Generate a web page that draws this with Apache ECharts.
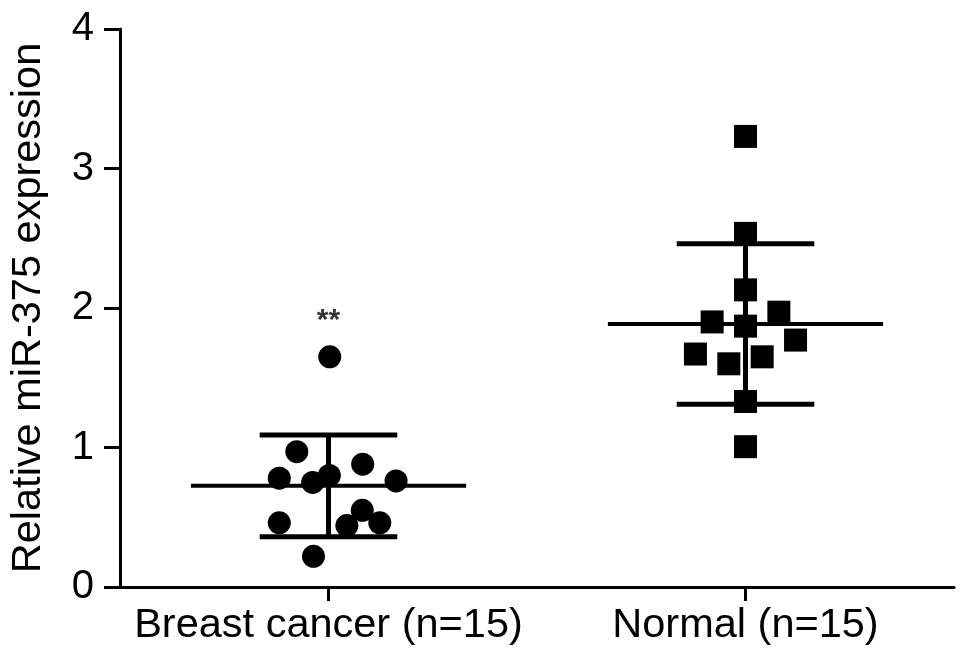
<!DOCTYPE html>
<html>
<head>
<meta charset="utf-8">
<script src="https://cdn.jsdelivr.net/npm/echarts@6/dist/echarts.min.js"></script>
<style>html,body{margin:0;padding:0;background:#fff}#c{width:969px;height:662px}</style>
</head>
<body>
<div id="c"></div>
<script>
// Categories and tick labels
var categories = ['Breast cancer (n=15)', 'Normal (n=15)'];
var yTicks = [0, 1, 2, 3, 4];

// Breast cancer: values and horizontal jitter (offset from category centre)
var cancerValues = [1.65, 0.97, 0.88, 0.78, 0.75, 0.80, 0.76, 0.55, 0.46, 0.44, 0.46, 0.22];
var cancerJitter = [0.003, -0.076, 0.082, -0.118, -0.038, 0.002, 0.162, 0.081, -0.118, 0.044, 0.123, -0.036];

// Normal: values and horizontal jitter
var normalValues = [3.23, 2.535, 2.13, 1.90, 1.87, 1.97, 1.77, 1.67, 1.60, 1.65, 1.33, 1.006];
var normalJitter = [0, 0, 0, -0.08, 0, 0.08, 0.12, -0.12, -0.04, 0.04, 0, 0];

// Mean and SD
var means = [0.725, 1.885];
var sds = [0.365, 0.575];

// Significance mark
var sigMarks = ['**', ''];
var sigHeights = [1.91, null];

function pts(vals, jit, c) {
  return vals.map(function (v, i) { return [c + jit[i], v]; });
}

var chart = echarts.init(document.getElementById('c'), null, {renderer: 'canvas'});
var font = 'Liberation Sans, Arial, Helvetica, sans-serif';

var option = {
  animation: false,
  backgroundColor: '#fff',
  grid: {left: 117, right: 15, top: 29, bottom: 75, containLabel: false},
  xAxis: [{
    type: 'category',
    data: categories,
    boundaryGap: true,
    axisLine: {lineStyle: {color: '#000', width: 3}},
    axisTick: {show: true, alignWithLabel: true, interval: 0, length: 14, lineStyle: {color: '#000', width: 3}},
    axisLabel: {color: '#000', fontSize: 41.5, fontFamily: font, margin: 18, interval: 0, hideOverlap: false},
    splitLine: {show: false}
  }, {
    type: 'value',
    min: 0.5, max: 2.5,
    show: false
  }],
  yAxis: {
    type: 'value',
    min: yTicks[0], max: yTicks[yTicks.length - 1], interval: 1,
    name: 'Relative miR-375 expression',
    nameLocation: 'middle',
    nameGap: 70,
    nameTextStyle: {color: '#000', fontSize: 41.5, fontFamily: font},
    axisLine: {show: true, lineStyle: {color: '#000', width: 3}},
    axisTick: {show: true, length: 16, lineStyle: {color: '#000', width: 3}},
    axisLabel: {color: '#000', fontSize: 40, fontFamily: font, margin: 26},
    splitLine: {show: false}
  },
  series: [{
    type: 'custom',
    xAxisIndex: 1,
    data: means.map(function (m, i) { return [i + 1, m, sds[i]]; }),
    renderItem: function (params, api) {
      var x = api.value(0), m = api.value(1), s = api.value(2);
      function seg(x1, y1, x2, y2, w) {
        var a = api.coord([x1, y1]), b = api.coord([x2, y2]);
        return {type: 'line', shape: {x1: a[0], y1: a[1], x2: b[0], y2: b[1]},
          style: {stroke: '#000', lineWidth: w}};
      }
      return {type: 'group', children: [
        seg(x - 0.33, m, x + 0.33, m, 4),
        seg(x, m - s, x, m + s, 5),
        seg(x - 0.165, m + s, x + 0.165, m + s, 5),
        seg(x - 0.165, m - s, x + 0.165, m - s, 5)
      ]};
    },
    z: 2
  }, {
    type: 'scatter',
    xAxisIndex: 1,
    data: pts(cancerValues, cancerJitter, 1),
    symbol: 'circle',
    symbolSize: 23,
    itemStyle: {color: '#000', opacity: 1},
    z: 3
  }, {
    type: 'scatter',
    xAxisIndex: 1,
    data: pts(normalValues, normalJitter, 2),
    symbol: 'rect',
    symbolSize: 23,
    itemStyle: {color: '#000', opacity: 1},
    z: 3
  }, {
    type: 'scatter',
    xAxisIndex: 1,
    data: sigHeights.map(function (h, i) { return h == null ? null : {value: [i + 1, h], label: {formatter: sigMarks[i]}}; }).filter(Boolean),
    symbolSize: 1,
    itemStyle: {color: 'rgba(0,0,0,0)'},
    label: {show: true, position: 'inside', color: '#000', fontSize: 30, fontWeight: 'bold', fontFamily: font},
    z: 4
  }]
};
chart.setOption(option);
</script>
</body>
</html>
